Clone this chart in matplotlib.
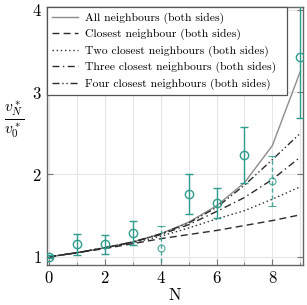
import matplotlib

matplotlib.use("Agg")
import matplotlib.pyplot as plt
from matplotlib.ticker import MultipleLocator

plt.rcParams["font.family"] = "serif"
plt.rcParams["font.serif"] = ["cmr10", "DejaVu Serif"]
plt.rcParams["mathtext.fontset"] = "cm"
plt.rcParams["axes.formatter.use_mathtext"] = True

TEAL = "#2f9c8e"

# model curves, N = 0..9
n_model = [0, 1, 2, 3, 4, 5, 6, 7, 8, 9]
all_nb = [1.0, 1.05, 1.11, 1.18, 1.28, 1.42, 1.62, 1.90, 2.35, 3.25]
closest = [1.0, 1.05, 1.10, 1.16, 1.22, 1.27, 1.32, 1.38, 1.44, 1.51]
two_closest = [1.0, 1.05, 1.11, 1.17, 1.25, 1.35, 1.46, 1.56, 1.70, 1.85]
three_closest = [1.0, 1.05, 1.11, 1.18, 1.27, 1.39, 1.55, 1.72, 1.94, 2.21]
four_closest = [1.0, 1.05, 1.11, 1.18, 1.28, 1.41, 1.60, 1.87, 2.18, 2.50]

# measured points
n_meas = [0, 1, 2, 3, 5, 6, 7, 9]
v_meas = [1.00, 1.15, 1.15, 1.29, 1.76, 1.65, 2.24, 3.43]
v_err = [0.02, 0.13, 0.11, 0.15, 0.24, 0.18, 0.34, 0.75]

# outlier points (dashed)
n_out = [4, 8]
v_out = [1.11, 1.92]
v_out_err = [0.26, 0.30]

fig = plt.figure(figsize=(3.07, 3.05), dpi=100)
ax = fig.add_axes([0.152, 0.131, 0.836, 0.845])

ax.plot(n_model, all_nb, color="#8c8c8c", lw=1.0, ls="-", label="All neighbours (both sides)")
ax.plot(n_model, closest, color="#2b2b2b", lw=1.0, ls=(0, (5, 3)), label="Closest neighbour (both sides)")
ax.plot(n_model, two_closest, color="#2b2b2b", lw=1.0, ls=(0, (1, 2)), label="Two closest neighbours (both sides)")
ax.plot(n_model, three_closest, color="#2b2b2b", lw=1.0, ls=(0, (5, 2.5, 1, 2.5)),
        label="Three closest neighbours (both sides)")
ax.plot(n_model, four_closest, color="#2b2b2b", lw=1.0, ls=(0, (5, 2, 1, 2, 1, 2)),
        label="Four closest neighbours (both sides)")

ax.errorbar(n_meas, v_meas, yerr=v_err, fmt="o", ms=6, mfc="none", mec=TEAL, mew=1.0,
            ecolor=TEAL, elinewidth=1.0, capsize=3, capthick=1.0, zorder=4)
eb = ax.errorbar(n_out, v_out, yerr=v_out_err, fmt="o", ms=5, mfc="none", mec=TEAL, mew=0.8,
                 ecolor=TEAL, elinewidth=1.0, capsize=3, capthick=1.0, zorder=4, alpha=0.85)
eb[2][0].set_linestyle((0, (3, 2)))

ax.set_xlim(-0.09, 9.11)
ax.set_ylim(0.9, 4.03)
ax.xaxis.set_major_locator(MultipleLocator(2))
ax.xaxis.set_minor_locator(MultipleLocator(1))
ax.yaxis.set_major_locator(MultipleLocator(1))
ax.grid(True, which="both", axis="x", color="#e6e6e6", lw=0.8)
ax.grid(True, which="major", axis="y", color="#e6e6e6", lw=0.8)
ax.set_axisbelow(True)
ax.tick_params(which="both", direction="in", top=True, right=True, labelsize=12, color="#777777")
ax.tick_params(which="major", length=4)
ax.tick_params(which="minor", length=2.5)
for spine in ax.spines.values():
    spine.set_color("#666666")
    spine.set_linewidth(1.0)

ax.set_xlabel("N", fontsize=12, labelpad=1)
ax.set_ylabel(r"$\frac{v_N^*}{v_0^*}$", fontsize=16, rotation=0)
ax.yaxis.set_label_coords(-0.125, 0.485)

leg = ax.legend(loc="upper left", bbox_to_anchor=(0.0, 1.0, 0.936, 0.0), mode="expand",
                fontsize=8.4, frameon=True, fancybox=False, framealpha=1.0,
                borderaxespad=0.0, handlelength=2.2, labelspacing=0.44, borderpad=0.45,
                handletextpad=0.6)
leg.get_frame().set_edgecolor("#555555")
leg.get_frame().set_linewidth(0.9)

fig.savefig("out.png", dpi=100)
